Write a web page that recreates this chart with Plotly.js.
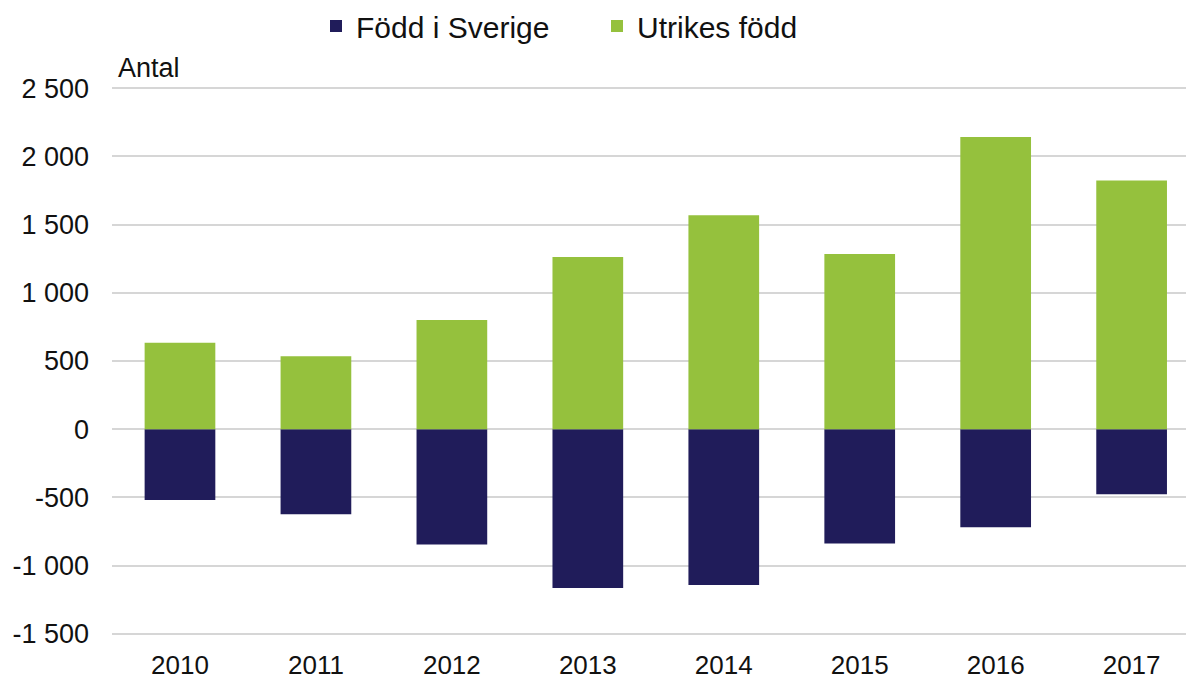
<!DOCTYPE html>
<html><head><meta charset="utf-8">
<script src="https://cdn.plot.ly/plotly-3.0.1.min.js"></script>
<style>html,body{margin:0;padding:0;background:#fff}#chart{width:1186px;height:679px}</style>
</head><body><div id="chart"></div>
<script>
const years = ['2010','2011','2012','2013','2014','2015','2016','2017'];
const foddISverige = [-518, -623, -845, -1163, -1141, -837, -718, -477];
const utrikesFodd = [633, 535, 801, 1263, 1569, 1285, 2142, 1823];
const seriesNames = ['Född i Sverige', 'Utrikes född'];
const yTicks = [-1500, -1000, -500, 0, 500, 1000, 1500, 2000, 2500];
const yTickLabels = ['-1 500', '-1 000', '-500', '0', '500', '1 000', '1 500', '2 000', '2 500'];

const fam = 'Liberation Sans, Arial, sans-serif';
const font = {family: fam, size: 26, color: '#111'};
const traces = [
  {type: 'bar', name: seriesNames[0], x: years, y: foddISverige, marker: {color: '#201c5a'}, legend: 'legend'},
  {type: 'bar', name: seriesNames[1], x: years, y: utrikesFodd, marker: {color: '#95c13d'}, legend: 'legend2'}
];
const legFont = {size: 30, family: fam, color: '#111'};
const layout = {
  width: 1186, height: 679,
  margin: {l: 112, r: 0, t: 87, b: 44},
  barmode: 'relative', bargap: 0.48,
  font: font,
  paper_bgcolor: '#fff', plot_bgcolor: '#fff',
  showlegend: true,
  legend: {orientation: 'h', xref: 'container', yref: 'container', x: 316/1186, xanchor: 'left', y: 1, yanchor: 'top', font: legFont, itemwidth: 30, bgcolor: 'rgba(0,0,0,0)'},
  legend2: {orientation: 'h', xref: 'container', yref: 'container', x: 597/1186, xanchor: 'left', y: 1, yanchor: 'top', font: legFont, itemwidth: 30, bgcolor: 'rgba(0,0,0,0)'},
  xaxis: {type: 'category', range: [-0.5, 7.4], showgrid: false, showline: false, ticks: '', tickfont: {size: 26}, zeroline: false, ticklabelstandoff: 12},
  yaxis: {range: [-1508, 2508], tickvals: yTicks, ticktext: yTickLabels, showgrid: true, gridcolor: '#d6d6d6', gridwidth: 2, zeroline: true, zerolinecolor: '#d6d6d6', zerolinewidth: 2, showline: false, ticks: '', tickfont: {size: 27}, ticklabelstandoff: 22},
  annotations: [{text: 'Antal', xref: 'paper', yref: 'paper', x: 0.004, y: 1.0, xanchor: 'left', yanchor: 'bottom', yshift: 2, showarrow: false, font: {size: 27, family: fam, color: '#111'}}]
};
Plotly.newPlot('chart', traces, layout, {displayModeBar: false, staticPlot: true});
</script></body></html>
